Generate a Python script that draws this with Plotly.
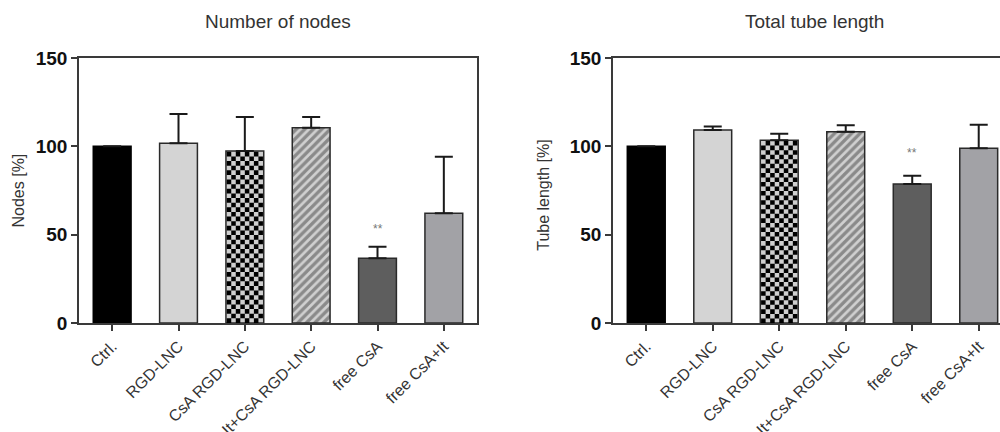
import plotly.graph_objects as go

categories = ["Ctrl.", "RGD-LNC", "CsA RGD-LNC", "It+CsA RGD-LNC", "free CsA", "free CsA+It"]

nodes_values = [100, 101.7, 97.4, 110.5, 36.6, 62.1]
nodes_errors = [0, 16.6, 19.2, 6.1, 6.6, 32.0]
nodes_signif = ["", "", "", "", "**", ""]

tube_values = [100, 109.2, 103.5, 108.3, 78.7, 98.9]
tube_errors = [0, 2.0, 3.6, 3.7, 4.6, 13.3]
tube_signif = ["", "", "", "", "**", ""]

y_ticks = [0, 50, 100, 150]

FONT = "Liberation Sans, Arial, sans-serif"
BAR_W = 0.57
fills = ["#000000", "#d4d4d4", "#cfcfcf", "#d0d0d0", "#5e5e5e", "#a2a2a6"]
patterns = ["", "", "", "/", "", ""]
outline = ["#000000", "#2a2a2a", "#2a2a2a", "#2a2a2a", "#2a2a2a", "#2a2a2a"]

x_pos = list(range(len(categories)))

fig = go.Figure()


def add_panel(values, errors, xa, ya):
    fig.add_trace(go.Bar(
        x=x_pos, y=values, width=BAR_W,
        marker=dict(color=fills, line=dict(color=outline, width=1.5),
                    pattern=dict(shape=patterns, fgcolor="#1e1e1e", bgcolor="#d0d0d0",
                                 size=6, solidity=0.55)),
        error_y=dict(type="data", symmetric=False, array=errors,
                     arrayminus=[0] * len(errors), color="#1a1a1a", thickness=2, width=9),
        xaxis=xa, yaxis=ya, hoverinfo="skip",
    ))


add_panel(nodes_values, nodes_errors, "x", "y")
add_panel(tube_values, tube_errors, "x2", "y2")


def checker_path(xc, val, ncols=8, cell_target=2.6):
    inset_x = 0.012
    inset_y = 0.5
    x0 = xc - BAR_W / 2 + inset_x
    x1 = xc + BAR_W / 2 - inset_x
    top = val - inset_y
    cw = (x1 - x0) / ncols
    nrows = max(1, int(round(top / cell_target)))
    ch = top / nrows
    parts = []
    for r in range(nrows):
        for c in range(ncols):
            if (r + c) % 2 == 0:
                a = x0 + c * cw
                b = a + cw
                ya = r * ch
                yb = ya + ch
                parts.append(f"M{a:.4f},{ya:.3f}H{b:.4f}V{yb:.3f}H{a:.4f}Z")
    return "".join(parts)


checker_idx = 2
shapes = [
    dict(type="path", path=checker_path(x_pos[checker_idx], nodes_values[checker_idx]),
         xref="x", yref="y", fillcolor="#000000", line=dict(width=0), layer="above"),
    dict(type="path", path=checker_path(x_pos[checker_idx], tube_values[checker_idx]),
         xref="x2", yref="y2", fillcolor="#000000", line=dict(width=0), layer="above"),
]

annotations = []
for i, s in enumerate(nodes_signif):
    if s:
        annotations.append(dict(x=x_pos[i], y=nodes_values[i] + nodes_errors[i], xref="x", yref="y",
                                text=s, showarrow=False, yshift=18,
                                font=dict(family=FONT, size=12, color="#777777")))
for i, s in enumerate(tube_signif):
    if s:
        annotations.append(dict(x=x_pos[i], y=tube_values[i] + tube_errors[i], xref="x2", yref="y2",
                                text=s, showarrow=False, yshift=23,
                                font=dict(family=FONT, size=12, color="#777777")))

# titles
annotations += [
    dict(x=0.278, y=1.136, xref="paper", yref="paper", text="Number of nodes", showarrow=False,
         xanchor="center", yanchor="middle", font=dict(family=FONT, size=19, color="#333333")),
    dict(x=0.814, y=1.136, xref="paper", yref="paper", text="Total tube length", showarrow=False,
         xanchor="center", yanchor="middle", font=dict(family=FONT, size=19, color="#333333")),
    dict(x=0.018, y=0.5, xref="paper", yref="paper", text="Nodes [%]", showarrow=False, textangle=-90,
         xanchor="center", yanchor="middle", font=dict(family=FONT, size=16, color="#333333")),
    dict(x=0.544, y=0.48, xref="paper", yref="paper", text="Tube length [%]", showarrow=False, textangle=-90,
         xanchor="center", yanchor="middle", font=dict(family=FONT, size=16, color="#333333")),
]

xaxis_common = dict(
    tickmode="array", tickvals=x_pos, ticktext=categories, tickangle=-45,
    tickfont=dict(family=FONT, size=16, color="#333333"),
    showline=True, linecolor="#3a3a3a", linewidth=1.5, mirror=True,
    ticks="outside", ticklen=6, tickwidth=1.5, tickcolor="#3a3a3a",
    showgrid=False, zeroline=False, automargin=False, fixedrange=True,
)
yaxis_common = dict(
    range=[0, 150], tickmode="array", tickvals=y_ticks,
    tickfont=dict(family=FONT, size=19, color="#111111", weight="bold"),
    showline=True, linecolor="#3a3a3a", linewidth=1.5,
    ticks="outside", ticklen=6, tickwidth=1.5, tickcolor="#3a3a3a",
    showgrid=False, zeroline=False, automargin=False, fixedrange=True,
)

fig.update_layout(
    width=1000, height=432,
    margin=dict(l=0, r=0, t=58, b=109),
    paper_bgcolor="white", plot_bgcolor="white",
    showlegend=False,
    xaxis=dict(xaxis_common, domain=[0.079, 0.477], range=[-0.5, 5.5], anchor="y"),
    yaxis=dict(yaxis_common, domain=[0, 1], anchor="x", mirror=True),
    xaxis2=dict(xaxis_common, domain=[0.613, 1.0], range=[-0.5, 5.32], anchor="y2"),
    yaxis2=dict(yaxis_common, domain=[0, 1], anchor="x2", mirror=False),
    shapes=shapes,
    annotations=annotations,
)

fig.write_html("out.html")
